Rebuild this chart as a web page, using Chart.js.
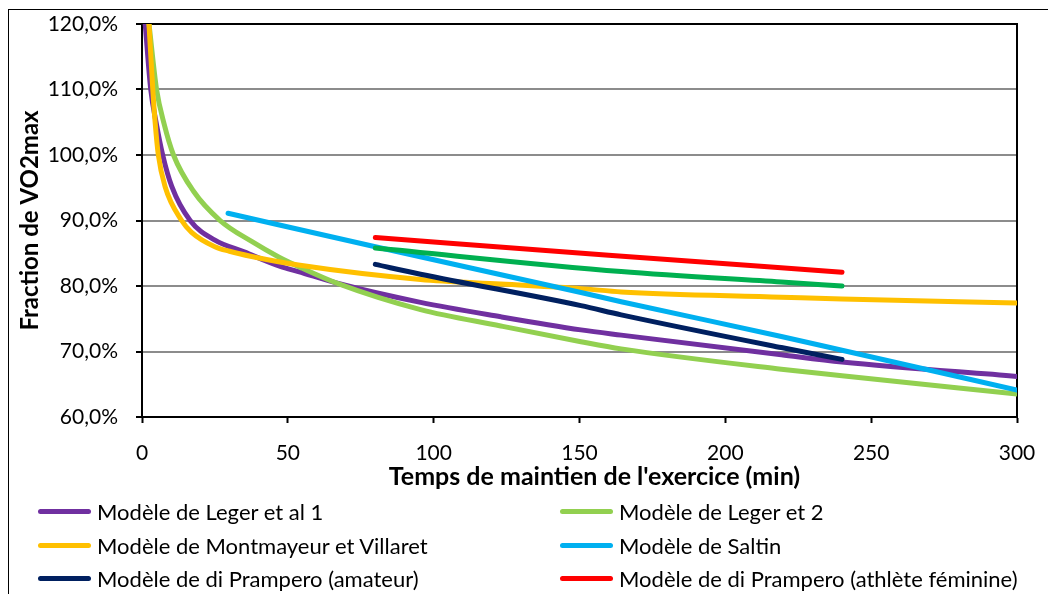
<!DOCTYPE html>
<html>
<head>
<meta charset="utf-8">
<script src="https://cdn.jsdelivr.net/npm/chart.js@4"></script>
<style>
  html, body { margin: 0; padding: 0; background: #fff; }
  #wrap { position: relative; width: 1048px; height: 594px; overflow: hidden; }
  #cadre { position: absolute; left: 8px; top: 9px; width: 1100px; height: 700px; border: 1.5px solid #000; }
  #chartVO2 { position: absolute; left: 0; top: 0; }
  #legende { position: absolute; left: 0; top: 0; width: 1048px; height: 594px; font-family: Lato, sans-serif; font-size: 22px; color: #000; }
  .item { position: absolute; display: flex; align-items: center; height: 30px; white-space: nowrap; }
  .trait { width: 53px; height: 5px; border-radius: 3px; margin-right: 6px; }
</style>
</head>
<body>
<div id="wrap">
  <div id="cadre"></div>
  <canvas id="chartVO2" width="1048" height="594"></canvas>
  <div id="legende"></div>
</div>
<script>
// temps (min) et fraction de VO2max (%)
const leger1Temps = [1.1, 3, 5, 7.1, 10.2, 16.5, 25, 35, 47.4, 53.6, 68, 95.5, 123, 150.5, 164.3, 219.2, 240, 300]
const leger1Vals  = [120, 110, 104.6, 100, 95.2, 90, 87.0, 85.2, 83.0, 82.2, 80.3, 77.5, 75.3, 73.3, 72.5, 69.5, 68.4, 66.2]

const leger2Temps = [2.4, 5, 7.6, 10.8, 17.6, 26.8, 37.6, 47, 55, 67, 95.5, 123, 150.5, 164.3, 219.2, 240, 300]
const leger2Vals  = [120, 110, 104.7, 100, 94.5, 90, 86.8, 84.4, 82.7, 80.4, 76.4, 73.9, 71.5, 70.4, 67.3, 66.3, 63.5]

const montTemps = [2.4, 3.7, 4.5, 5.6, 7.9, 13.6, 17, 25, 30, 37.6, 53.6, 95.5, 123, 150.5, 164.3, 219.2, 240, 300]
const montVals  = [120, 110, 105, 100, 95.2, 90, 88.2, 86.0, 85.3, 84.5, 83.2, 81.0, 80.3, 79.6, 79.1, 78.3, 78.0, 77.4]

const saltinTemps = [29.5, 80, 150.5, 164.3, 219.2, 240, 300]
const saltinVals  = [91.1, 86.0, 79.0, 77.6, 72.3, 70.2, 64.1]

const pramAmTemps = [80, 95.5, 150.5, 164.3, 219.2, 240]
const pramAmVals  = [83.3, 81.8, 77.0, 75.6, 70.6, 68.8]

const pramFemTemps = [80, 160, 240]
const pramFemVals  = [87.4, 84.7, 82.1]

const vertTemps = [80, 164.3, 219.2, 240]
const vertVals  = [85.8, 82.2, 80.6, 80.0]

const yTicks = [60, 70, 80, 90, 100, 110, 120]
const xTicks = [0, 50, 100, 150, 200, 250, 300]

const titreX = "Temps de maintien de l'exercice (min)"
const titreY = 'Fraction de VO2max'

const noms = [
    'Modèle de Leger et al 1',
    'Modèle de Leger et 2',
    'Modèle de Montmayeur et Villaret',
    'Modèle de Saltin',
    'Modèle de di Prampero (amateur)',
    'Modèle de di Prampero (athlète féminine)',
    ''
]
const couleurs = ['#7030A0', '#92D050', '#FFC000', '#00B0F0', '#002060', '#FF0000', '#00B050']
const series = [
    [leger1Temps, leger1Vals],
    [leger2Temps, leger2Vals],
    [montTemps, montVals],
    [saltinTemps, saltinVals],
    [pramAmTemps, pramAmVals],
    [pramFemTemps, pramFemVals],
    [vertTemps, vertVals]
]

const fmtPct = (v) => v.toFixed(1).replace('.', ',') + '%'

Chart.defaults.font.family = 'Lato, sans-serif'
Chart.defaults.font.size = 21
Chart.defaults.color = '#000'

const datasets = series.map(([temps, vals], i) => ({
    label: noms[i],
    data: temps.map((t, k) => ({ x: t, y: vals[k] })),
    borderColor: couleurs[i],
    backgroundColor: couleurs[i],
    borderWidth: 5,
    borderCapStyle: 'round',
    borderJoinStyle: 'round',
    pointRadius: 0,
    fill: false,
    cubicInterpolationMode: 'monotone',
    order: series.length - i
}))

// pas de marge automatique pour les étiquettes : la zone de tracé reste fixe
const sansMarge = (s) => {
    s.paddingTop = 0
    s.paddingBottom = 0
    s.paddingLeft = 0
    s.paddingRight = 0
}

// cadre noir autour de la zone de tracé + titre de l'axe x
const cadrePlot = {
    id: 'cadrePlot',
    beforeDatasetsDraw(chart) {
        const { ctx, chartArea: a } = chart
        ctx.save()
        ctx.strokeStyle = '#000'
        ctx.lineWidth = 2
        ctx.strokeRect(a.left, a.top, a.right - a.left, a.bottom - a.top)
        ctx.font = 'bold 25px Lato, sans-serif'
        ctx.fillStyle = '#000'
        ctx.textAlign = 'center'
        ctx.textBaseline = 'middle'
        ctx.fillText(titreX, (a.left + a.right) / 2 + 15, a.bottom + 60)
        ctx.restore()
    }
}

const canvas = document.getElementById('chartVO2')
const context = canvas.getContext('2d')

const chartVO2 = new Chart(context, {
    type: 'line',
    data: { datasets },
    options: {
        responsive: false,
        animation: false,
        layout: { padding: { left: 8, top: 24, right: 31, bottom: 104 } },
        plugins: { legend: { display: false }, tooltip: { enabled: false } },
        scales: {
            x: {
                type: 'linear',
                min: 0,
                max: 300,
                afterBuildTicks: (s) => { s.ticks = xTicks.map(v => ({ value: v })) },
                afterFit: (s) => { s.height = 73; sansMarge(s) },
                ticks: { padding: 18, maxRotation: 0 },
                grid: { drawOnChartArea: false, tickLength: 6, tickColor: '#000', tickWidth: 2 },
                border: { color: '#000', width: 2 }
            },
            y: {
                min: 60,
                max: 120,
                afterBuildTicks: (s) => { s.ticks = yTicks.map(v => ({ value: v })) },
                afterFit: (s) => { s.width = 134; sansMarge(s) },
                ticks: { padding: 18, callback: (v) => fmtPct(v) },
                grid: { color: '#8c8c8c', lineWidth: 2, tickLength: 6, tickColor: '#000', tickWidth: 2 },
                border: { color: '#000', width: 2 },
                title: {
                    display: true,
                    text: titreY,
                    font: { size: 24, weight: 'bold' },
                    padding: { top: 8, bottom: 0 }
                }
            }
        }
    },
    plugins: [cadrePlot]
})

// légende en deux colonnes
const legende = document.getElementById('legende')
const colX = [38, 560]
const rangY = [511, 545, 578]
noms.forEach((nom, i) => {
    if (!nom) return
    const item = document.createElement('div')
    item.className = 'item'
    item.style.left = colX[i % 2] + 'px'
    item.style.top = (rangY[Math.floor(i / 2)] - 15) + 'px'
    const trait = document.createElement('div')
    trait.className = 'trait'
    trait.style.background = couleurs[i]
    const txt = document.createElement('span')
    txt.textContent = nom
    item.appendChild(trait)
    item.appendChild(txt)
    legende.appendChild(item)
})
</script>
</body>
</html>
